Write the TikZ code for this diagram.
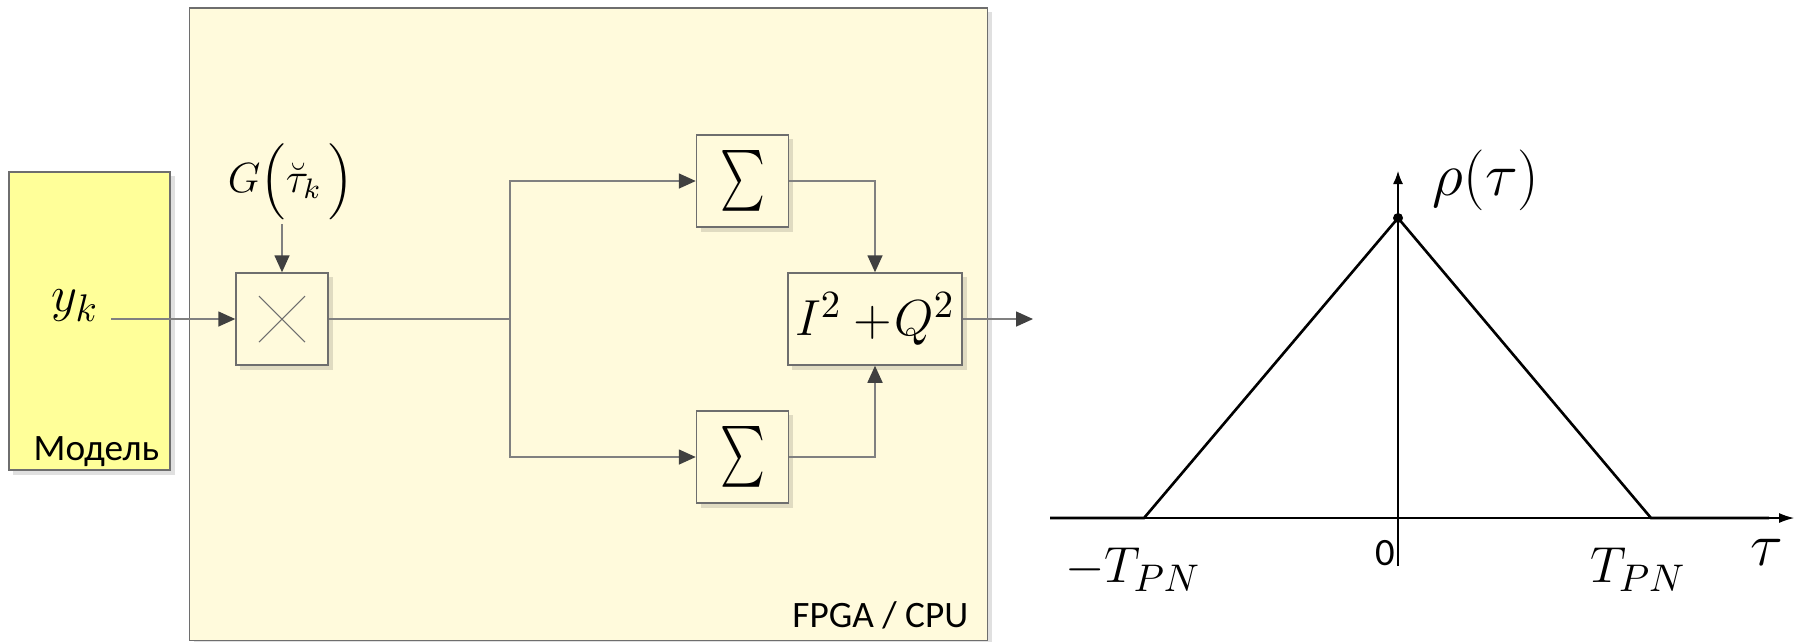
\documentclass[tikz,border=0pt]{standalone}
\usepackage{fontspec}
\usepackage{amsmath}
\usepackage{graphicx}
\usetikzlibrary{arrows.meta,shadows}
\newfontfamily\calibri{Carlito}
\definecolor{fpgafill}{HTML}{FFFADC}
\definecolor{modelfill}{HTML}{FFFF99}
\definecolor{boxgray}{HTML}{6E6E6E}
\definecolor{wiregray}{HTML}{808080}
\definecolor{tipgray}{HTML}{404040}
\newcommand{\bigsum}{\scalebox{0.7}[1]{$\sum$}}

\begin{document}
\begin{tikzpicture}[x=0.01cm, y=-0.01cm,
    softshadow/.style={drop shadow={shadow xshift=0.045cm, shadow yshift=-0.045cm, opacity=0.12, fill=black}},
    blk/.style={draw=boxgray, line width=0.4pt, fill=fpgafill, minimum width=0.92cm,
        minimum height=0.92cm, inner sep=0pt, softshadow},
    wire/.style={draw=wiregray, line width=0.45pt},
    arr/.style={wire, -{Triangle[length=0.17cm, width=0.15cm, color=tipgray]}},
    lbl/.style={font=\calibri\fontsize{10.6}{12}\selectfont, inner sep=0pt},
    axis/.style={black, line width=0.35pt},
    signal/.style={black, line width=0.75pt},
  ]
    \useasboundingbox (0,0) rectangle (1798,641);

    % Model and FPGA frames
    \node[draw=boxgray, line width=0.4pt, fill=modelfill, minimum width=1.61cm,
        minimum height=2.98cm, softshadow] (model) at (89.5,321) {};
    \node[draw=boxgray, line width=0.4pt, fill=fpgafill, minimum width=7.97cm,
        minimum height=6.32cm, softshadow] (fpga) at (588.5,324) {};
    \node[lbl, anchor=base east] at ([xshift=-0.11cm, yshift=0.10cm]model.south east) {Модель};
    \node[lbl, anchor=base east] at ([xshift=-0.19cm, yshift=0.13cm]fpga.south east) {FPGA / CPU};

    % Blocks
    \node[blk] (mult) at (282,319) {};
    \draw[boxgray, line width=0.3pt] ([shift={(-23,-23)}]mult.center) -- ([shift={(23,23)}]mult.center);
    \draw[boxgray, line width=0.3pt] ([shift={(-23,23)}]mult.center) -- ([shift={(23,-23)}]mult.center);
    \node[blk, font=\fontsize{19}{21}\selectfont] (sumA) at (742.5,181) {\bigsum};
    \node[blk, font=\fontsize{19}{21}\selectfont] (sumB) at (742.5,457) {\bigsum};
    \node[blk, minimum width=1.74cm, font=\fontsize{15}{17}\selectfont] (sq) at (875,319) {$I^{2}+\!Q^{2}$};

    % Inputs
    \node[font=\fontsize{15}{17}\selectfont] (yk) at (75,306) {$y_k$};
    \node[font=\fontsize{12}{14}\selectfont, inner sep=1pt] (gin) at (291,182) {$G\Bigl(\breve{\tau}_k\,\Bigr)$};
    \coordinate (split) at (510,319);
    \coordinate (out) at (1033,319);

    % Connections
    \draw[arr] (yk.east |- mult.west) -- (mult.west);
    \draw[arr] (mult.north |- gin.south) -- (mult.north);
    \draw[wire] (mult.east) -- (split);
    \draw[arr] (split) |- (sumA.west);
    \draw[arr] (split) |- (sumB.west);
    \draw[arr] (sumA.east) -| (sq.north);
    \draw[arr] (sumB.east) -| (sq.south);
    \draw[arr] (sq.east) -- (out);

    % Correlation function
    \draw[axis, -{Latex[length=0.15cm, width=0.1cm]}] (1050,518) -- (1794,518);
    \draw[axis, -{Latex[length=0.13cm, width=0.1cm]}] (1398,566) -- (1398,171);
    \draw[signal] (1050,518) -- (1144,518) -- (1398,218) -- (1651,518) -- (1769,518);
    \fill (1398,218) circle (0.05cm);

    % Labels
    \node[font=\fontsize{17}{19}\selectfont] at (1486,180) {$\rho(\tau)$};
    \node[font=\fontsize{17}{19}\selectfont] at (1767,552) {$\tau$};
    \node[font=\fontsize{15}{17}\selectfont] at (1133,570) {$-T_{PN}$};
    \node[font=\fontsize{15}{17}\selectfont] at (1638,570) {$T_{PN}$};
    \node[font=\calibri\fontsize{11}{13}\selectfont] at (1385,553) {0};
\end{tikzpicture}
\end{document}
